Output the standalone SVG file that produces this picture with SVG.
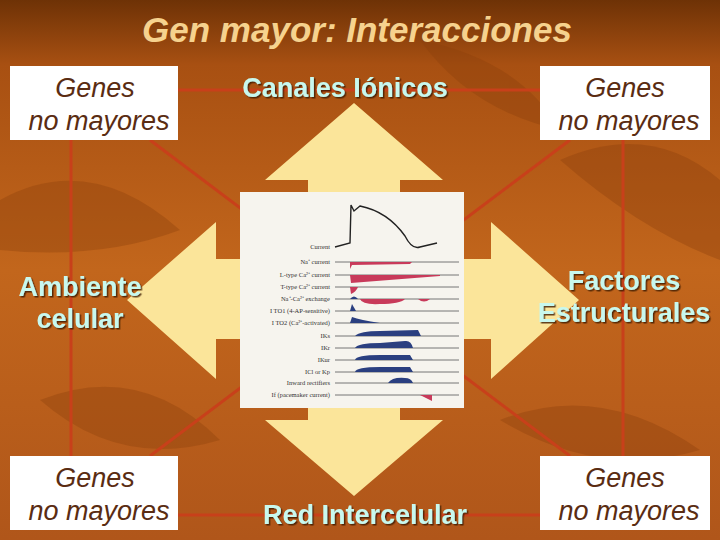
<svg xmlns="http://www.w3.org/2000/svg" width="720" height="540" viewBox="0 0 720 540">
<defs>
<linearGradient id="bg" x1="0" y1="0" x2="0" y2="1">
<stop offset="0" stop-color="#6e3206"/><stop offset="0.12" stop-color="#a85012"/><stop offset="0.5" stop-color="#c2661c"/><stop offset="1" stop-color="#b0561a"/>
</linearGradient>
<filter id="sh"><feDropShadow dx="1.5" dy="1.5" stdDeviation="0.5" flood-color="#3a1a00" flood-opacity="0.8"/></filter>
</defs>
<style>
.box{fill:#ffffff}
.gt{font-family:"Liberation Sans",Arial,sans-serif;font-style:italic;font-size:27px;fill:#5a2c12;text-anchor:middle}
.lb{font-family:"Liberation Sans",Arial,sans-serif;font-weight:bold;font-size:27px;fill:#c8f8ee;text-anchor:middle;filter:url(#sh)}
.rl{stroke:#c8401a;stroke-width:3;fill:none}
.sm{font-family:"Liberation Serif",serif;font-size:6.5px;fill:#333;text-anchor:end}
.bl{stroke:#555;stroke-width:0.8}
.rd{fill:#c83a5a}
.bu{fill:#2a3f80}
</style>
<rect width="720" height="540" fill="url(#bg)"/>
<g fill="#8a3e0c" opacity="0.35">
<path d="M0,200 Q90,150 180,230 Q100,260 0,250Z"/>
<path d="M560,160 Q650,120 720,180 L720,260 Q640,230 560,160Z"/>
<path d="M40,400 Q140,360 220,440 Q120,470 40,400Z"/>
<path d="M500,420 Q600,380 700,450 Q600,480 500,420Z"/>
<path d="M420,40 Q520,60 560,130 Q470,110 420,40Z"/>
</g>
<text x="357" y="42" font-family="Liberation Sans,Arial,sans-serif" font-style="italic" font-weight="bold" font-size="35" fill="#f6d28e" text-anchor="middle">Gen mayor: Interacciones</text>
<g id="connectors">
<line class="rl" x1="178" y1="90" x2="540" y2="90"/>
<line class="rl" x1="178" y1="515" x2="540" y2="515"/>
<line class="rl" x1="71" y1="140" x2="71" y2="456"/>
<line class="rl" x1="623" y1="140" x2="623" y2="456"/>
<line class="rl" x1="150" y1="140" x2="570" y2="456"/>
<line class="rl" x1="570" y1="140" x2="150" y2="456"/>
</g>
<g id="arrow">
<path fill="#fbe59a" d="M354,103 L443,180 L400,180 L400,259 L491,259 L491,222 L579,300 L491,379 L491,339 L400,339 L400,420 L443,420 L354,496 L265,420 L308,420 L308,339 L216,339 L216,379 L127,300 L216,222 L216,259 L308,259 L308,180 L265,180Z"/>
</g>
<g id="figure">
<rect x="240" y="192" width="224" height="216" fill="#f6f4ee"/>
<path d="M335,247 L350,243 L351,205 L354,211 L360,206 C380,210 395,222 405,236 Q412,250 420,247 L437,243" fill="none" stroke="#222" stroke-width="1.4"/>
<text class="sm" x="330" y="249">Current</text>
<g class="bl">
<line x1="335" y1="262" x2="459" y2="262"/><line x1="335" y1="275" x2="459" y2="275"/>
<line x1="335" y1="287" x2="459" y2="287"/><line x1="335" y1="299" x2="459" y2="299"/>
<line x1="335" y1="311" x2="459" y2="311"/><line x1="335" y1="323" x2="459" y2="323"/>
<line x1="335" y1="336" x2="459" y2="336"/><line x1="335" y1="348" x2="459" y2="348"/>
<line x1="335" y1="360" x2="459" y2="360"/><line x1="335" y1="372" x2="459" y2="372"/>
<line x1="335" y1="383" x2="459" y2="383"/><line x1="335" y1="395" x2="459" y2="395"/>
</g>
<path class="rd" d="M350,262 L350,269 L352,265 L410,264 L412,262Z"/>
<path class="rd" d="M350,275 L351,283 L440,276 L440,275Z"/>
<path class="rd" d="M350,287 L351,294 Q356,292 358,287Z"/>
<path class="bu" d="M350,299 Q354,294 358,299Z"/>
<path class="rd" d="M360,299 Q362,305 380,304 Q400,304 405,299Z M418,299 Q424,304 430,299Z"/>
<path class="bu" d="M350,311 L352,304 L356,311Z"/>
<path class="bu" d="M350,323 L352,317 Q360,320 380,323Z"/>
<path class="bu" d="M355,336 Q360,331 380,331 L418,330 L421,336Z"/>
<path class="bu" d="M355,348 Q358,343 380,343 L405,341 Q411,340 413,348Z"/>
<path class="bu" d="M355,360 Q356,355 380,355 L410,355 L413,360Z"/>
<path class="bu" d="M355,372 Q356,367 380,367 L410,367 L413,372Z"/>
<path class="bu" d="M388,383 Q392,377 405,378 Q411,378 413,383Z"/>
<path class="rd" d="M420,395 L432,395 L432,401Z"/>
<text class="sm" x="330" y="264">Na⁺ current</text>
<text class="sm" x="330" y="277">L-type Ca²⁺ current</text>
<text class="sm" x="330" y="289">T-type Ca²⁺ current</text>
<text class="sm" x="330" y="301">Na⁺-Ca²⁺ exchange</text>
<text class="sm" x="330" y="313">I TO1 (4-AP-sensitive)</text>
<text class="sm" x="330" y="325">I TO2 (Ca²⁺-activated)</text>
<text class="sm" x="330" y="338">IKs</text>
<text class="sm" x="330" y="350">IKr</text>
<text class="sm" x="330" y="362">IKur</text>
<text class="sm" x="330" y="374">ICl or Kp</text>
<text class="sm" x="330" y="385">Inward rectifiers</text>
<text class="sm" x="330" y="397">If (pacemaker current)</text>
</g>
<g id="tl"><rect class="box" x="10" y="66" width="168" height="74"/><text class="gt" x="95" y="97">Genes</text><text class="gt" x="99" y="130">no mayores</text></g>
<g id="tr"><rect class="box" x="540" y="66" width="170" height="74"/><text class="gt" x="625" y="97">Genes</text><text class="gt" x="629" y="130">no mayores</text></g>
<g id="bl"><rect class="box" x="10" y="456" width="168" height="74"/><text class="gt" x="95" y="487">Genes</text><text class="gt" x="99" y="520">no mayores</text></g>
<g id="br"><rect class="box" x="540" y="456" width="170" height="74"/><text class="gt" x="625" y="487">Genes</text><text class="gt" x="629" y="520">no mayores</text></g>
<g id="labels">
<text class="lb" x="345" y="97">Canales Iónicos</text>
<text class="lb" x="80" y="296">Ambiente</text>
<text class="lb" x="80" y="328">celular</text>
<text class="lb" x="624" y="290">Factores</text>
<text class="lb" x="624" y="322">Estructurales</text>
<text class="lb" x="365" y="524">Red Intercelular</text>
</g>
</svg>
